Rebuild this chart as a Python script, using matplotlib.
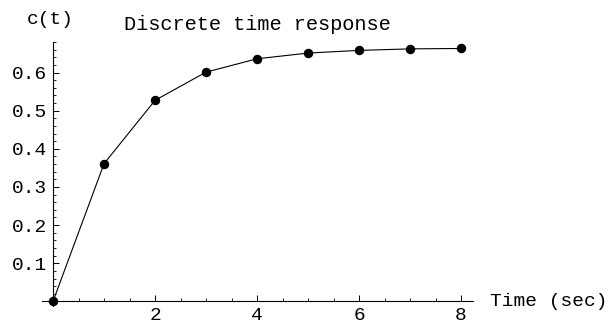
import matplotlib.pyplot as plt
from matplotlib.ticker import MultipleLocator, FixedLocator

# discrete step response samples
t = [0, 1, 2, 3, 4, 5, 6, 7, 8]
c = [0.0, 0.361, 0.527, 0.601, 0.636, 0.651, 0.658, 0.662, 0.663]
xticks = [2, 4, 6, 8]
yticks = [0.1, 0.2, 0.3, 0.4, 0.5, 0.6]

plt.rcParams['font.family'] = ['Liberation Mono', 'DejaVu Sans Mono']
fs = 14

fig = plt.figure(figsize=(6.12, 3.24), dpi=100)
ax = fig.add_axes([42 / 612, 18 / 324, 431 / 612, 264 / 324])

ax.plot(t, c, color='black', lw=0.8, marker='o', ms=5.8, clip_on=False, zorder=3)

ax.set_xlim(-0.216, 8.235)
ax.set_ylim(-0.012, 0.68)

for s in ['top', 'right']:
    ax.spines[s].set_visible(False)
ax.spines['left'].set_position(('data', 0))
ax.spines['bottom'].set_position(('data', 0))
ax.spines['left'].set_linewidth(0.8)
ax.spines['bottom'].set_linewidth(0.8)

ax.xaxis.set_major_locator(FixedLocator(xticks))
ax.xaxis.set_minor_locator(MultipleLocator(0.5))
ax.yaxis.set_major_locator(FixedLocator(yticks))
ax.yaxis.set_minor_locator(MultipleLocator(0.02))
ax.set_xticklabels([str(v) for v in xticks])
ax.set_yticklabels([f'{v:.1f}' for v in yticks])

ax.tick_params(which='major', direction='in', length=4, width=0.7,
               labelsize=fs, pad=4)
ax.tick_params(which='minor', direction='in', length=2, width=0.6)

fig.text(50 / 612, 1 - 20 / 324, 'c(t)', ha='center', va='center', fontsize=fs)
fig.text(257 / 612, 1 - 24 / 324, 'Discrete time response', ha='center',
         va='center', fontsize=14.6)
fig.text(490 / 612, 1 - 301 / 324, 'Time (sec)', ha='left', va='center',
         fontsize=fs)

fig.savefig('out.png', dpi=100)
